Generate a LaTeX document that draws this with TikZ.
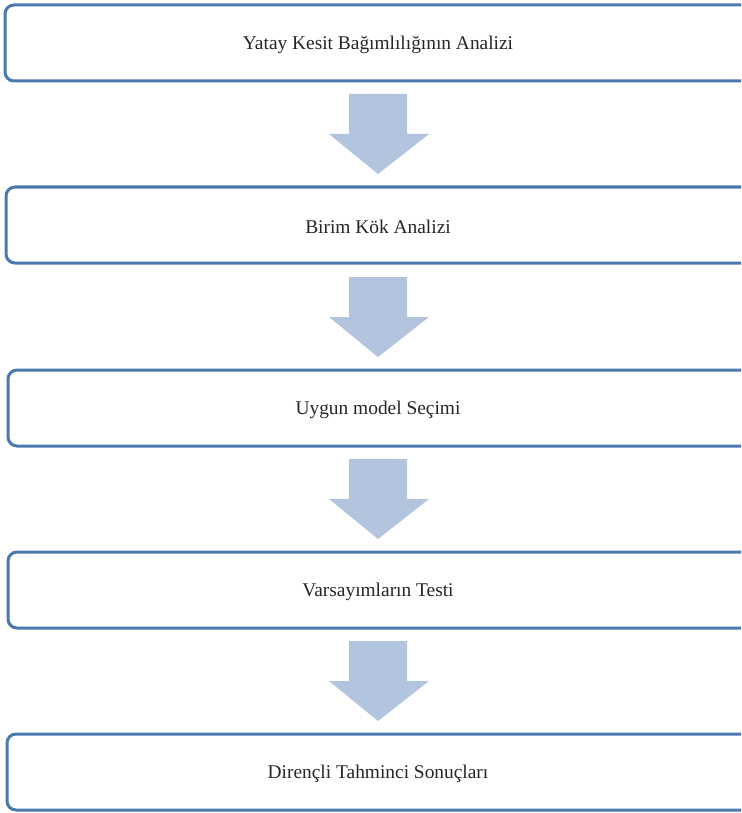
\documentclass[tikz,border=0pt]{standalone}
\usepackage{fontspec}
\setmainfont{Liberation Serif}
\definecolor{boxblue}{HTML}{4A78B0}
\definecolor{arrowblue}{HTML}{B3C4DF}
\begin{document}
\begin{tikzpicture}[x=1pt,y=-1pt,
  stepbox/.style={draw=boxblue,line width=3pt,rounded corners=9pt,fill=white},
  lbl/.style={font=\fontsize{19.4}{22}\selectfont,text=black!85},
  blockarrow/.style={fill=arrowblue,draw=none}]
\useasboundingbox (0,0) rectangle (741,813);
\begin{scope}
\clip (0,0) rectangle (741,813);
\draw[stepbox] (5,5) rectangle (760,81);
\draw[stepbox] (6,187) rectangle (760,263);
\draw[stepbox] (8,370) rectangle (760,446);
\draw[stepbox] (8,552) rectangle (760,628);
\draw[stepbox] (7,734) rectangle (760,810);
\end{scope}
\node[lbl] (t1) at (378,44.5) {Yatay Kesit Bağımlılığının Analizi};
\node[lbl] (t2) at (378,226.5) {Birim Kök Analizi};
\node[lbl] (t3) at (378,409.5) {Uygun model Seçimi};
\node[lbl] (t4) at (378,591.5) {Varsayımların Testi};
\node[lbl] (t5) at (378,773.5) {Dirençli Tahminci Sonuçları};
\foreach \y in {94,277,459,641}{
  \fill[blockarrow] (349,\y) -- (407,\y) -- (407,\y+40) -- (429,\y+40)
    -- (378,\y+80) -- (329,\y+40) -- (349,\y+40) -- cycle;
}
\end{tikzpicture}
\end{document}
